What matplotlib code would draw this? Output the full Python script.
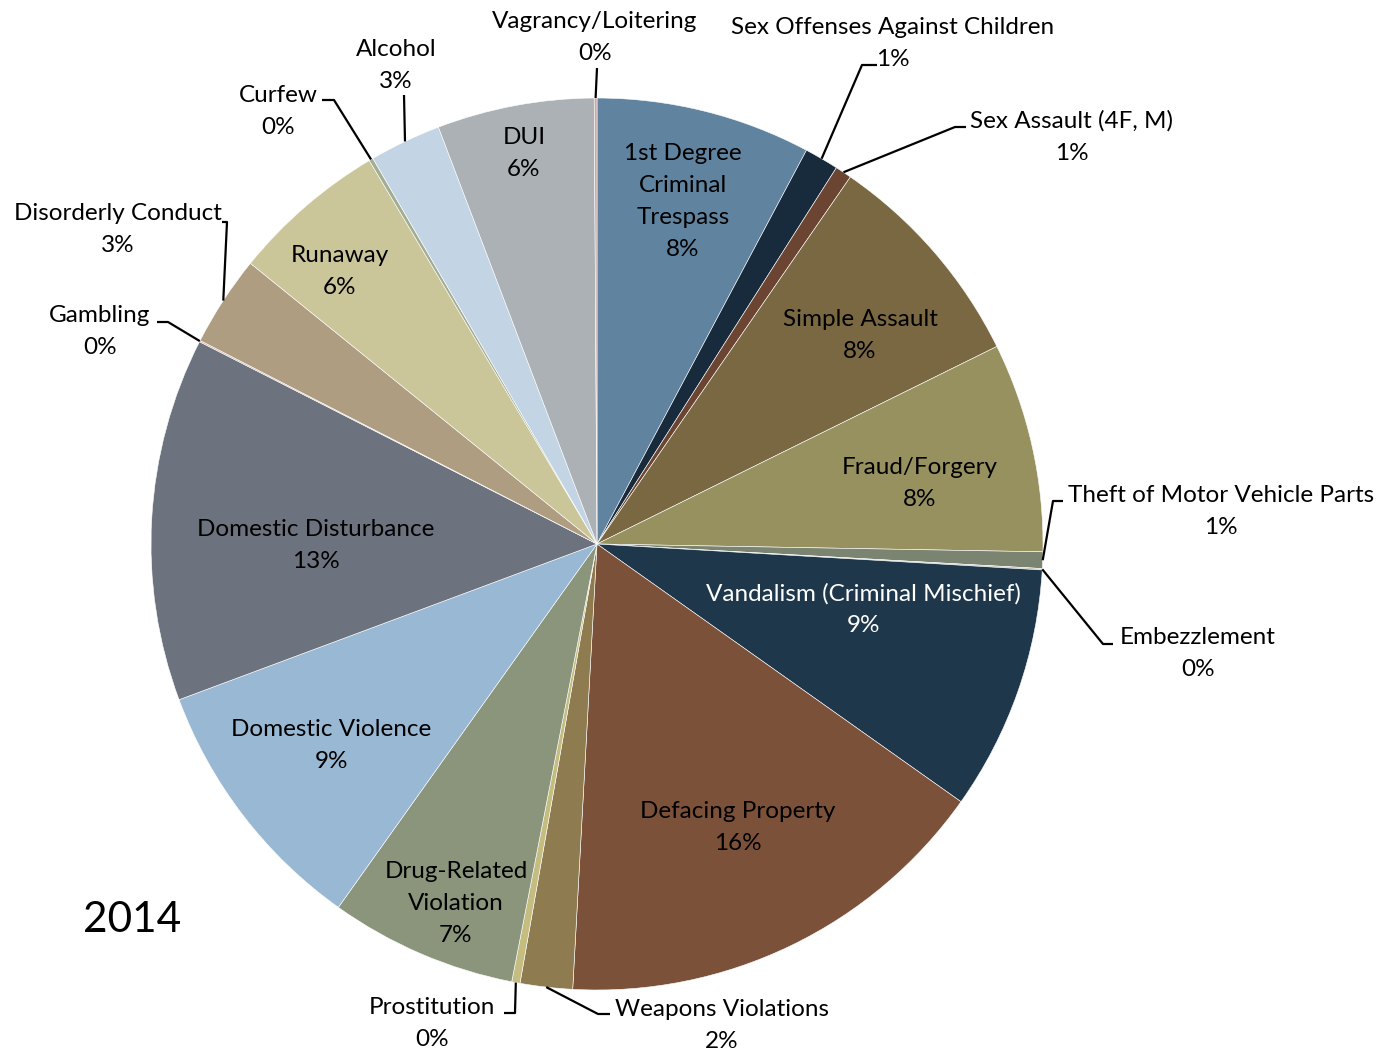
import numpy as np
import matplotlib
matplotlib.use('Agg')
import matplotlib.pyplot as plt

plt.rcParams['font.family'] = ['Lato', 'DejaVu Sans']

# slices, clockwise from 12 o'clock (percent of cases)
categories = ['1st Degree\nCriminal\nTrespass', 'Sex Offenses Against Children', 'Sex Assault (4F, M)',
              'Simple Assault', 'Fraud/Forgery', 'Theft of Motor Vehicle Parts', 'Embezzlement',
              'Vandalism (Criminal Mischief)', 'Defacing Property', 'Weapons Violations', 'Prostitution',
              'Drug-Related\nViolation', 'Domestic Violence', 'Domestic Disturbance', 'Gambling',
              'Disorderly Conduct', 'Runaway', 'Curfew', 'Alcohol', 'DUI', 'Vagrancy/Loitering']
values = [7.8, 1.24, 0.6, 8.1, 7.6, 0.6, 0.05, 8.9, 16.1, 1.9, 0.3,
          6.8, 9.5, 13.2, 0.05, 3.3, 5.65, 0.15, 2.6, 5.7, 0.1]
colors = ['#6084a0', '#182b3c', '#6b4532', '#7a6842', '#979160', '#7a8470', '#b9b9a6',
          '#1f374b', '#7c513a', '#8f7b50', '#c4bd7f', '#8a957b', '#99b8d3', '#6c737e', '#c9a9a0',
          '#ae9d81', '#cbc69a', '#a2ad93', '#c3d5e5', '#acb1b5', '#c9a9a6']
year = '2014'

W, H = 1380, 1054
cx, cy, R = 597, H - 544, 446

# label layout in pixel coords (x, y of first line); leader = (elbow, end)
inside = {
    0: (683, 152), 3: (860, 318), 4: (920, 466), 7: (863, 592), 8: (738, 810),
    11: (456, 870), 12: (331, 728), 13: (316, 528), 16: (340, 254), 19: (524, 136),
}
outside = {
    1: ((893, 26), [(862, 65), (877, 65)]),
    2: ((1072, 119), [(955, 127), (966, 127)]),
    5: ((1221, 494), [(1053, 501), (1063, 501)]),
    6: ((1198, 636), [(1103, 644), (1113, 644)]),
    9: ((722, 1008), [(598, 1014), (610, 1014)]),
    10: ((432, 1006), [(515, 1013), (504, 1013)]),
    14: ((100, 314), [(168, 322), (157, 322)]),
    15: ((118, 212), [(227, 222), (222, 222)]),
    17: ((278, 93), [(334, 100), (322, 100)]),
    18: ((396, 47), [(404, 95)]),
    20: ((595, 19), [(597, 68)]),
}

fig = plt.figure(figsize=(W / 100, H / 100), dpi=100)
ax = fig.add_axes([0, 0, 1, 1])

wedges, _ = ax.pie(values, colors=colors, startangle=90, counterclock=False,
                   center=(cx, cy), radius=R, frame=True,
                   wedgeprops=dict(edgecolor='white', linewidth=0.4, antialiased=True))
ax.set_xlim(0, W)
ax.set_ylim(0, H)
ax.set_aspect('equal')
ax.axis('off')

total = sum(values)
pcts = ['%d%%' % round(v / total * 100) for v in values]
cum = np.cumsum([0] + values[:-1])
fs = 17.5
lh = 32

def put(lines, x, y, color='black'):
    for k, s in enumerate(lines):
        ax.text(x, H - (y + 2 + k * lh), s, ha='center', va='center', fontsize=fs, color=color)

for i, (x, y) in inside.items():
    col = 'white' if i == 7 else 'black'
    put(categories[i].split('\n') + [pcts[i]], x, y, col)

for i, ((x, y), path) in outside.items():
    t = np.radians(360 * (cum[i] + values[i] / 2) / total)
    sx, sy = cx + R * np.sin(t), cy + R * np.cos(t)
    xs = [sx] + [p[0] for p in path]
    ys = [sy] + [H - p[1] for p in path]
    ax.plot(xs, ys, color='black', lw=1.6, solid_capstyle='butt')
    put([categories[i], pcts[i]], x, y)

ax.text(132, H - 920, year, ha='center', va='center', fontsize=30.5, color='black')

fig.savefig('out.png', dpi=100)
